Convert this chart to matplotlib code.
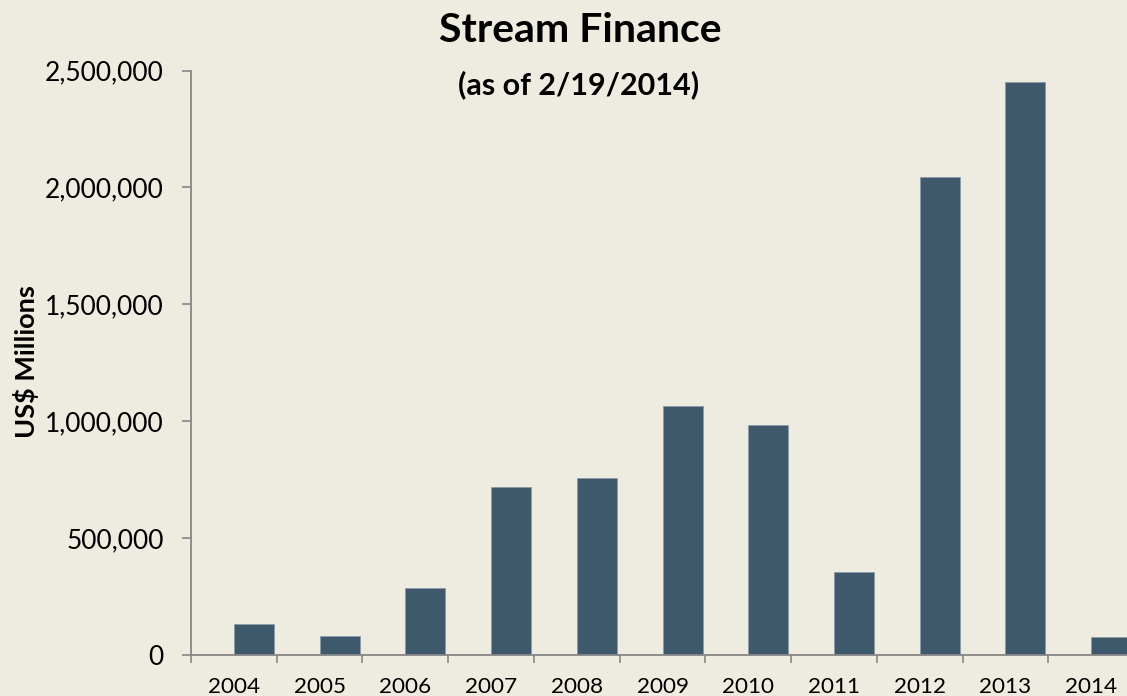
import matplotlib
matplotlib.use("Agg")
import matplotlib.pyplot as plt
from matplotlib.ticker import FuncFormatter, FixedLocator
import numpy as np

years = ["2004", "2005", "2006", "2007", "2008", "2009", "2010", "2011", "2012", "2013", "2014"]
values = [133000, 81000, 285000, 720000, 758000, 1065000, 984000, 354000, 2045000, 2450000, 76000]
yticks = [0, 500000, 1000000, 1500000, 2000000, 2500000]

BG = "#EEECE1"
BAR = "#3D596B"
AX = "#868686"

plt.rcParams["font.family"] = ["Lato", "DejaVu Sans"]

W, H = 1127, 696
fig = plt.figure(figsize=(W / 100, H / 100), dpi=100, facecolor=BG)

left_px, right_px, top_px, bottom_px = 191, 1134, 70.5, 655
ax = fig.add_axes([left_px / W, 1 - bottom_px / H,
                   (right_px - left_px) / W, (bottom_px - top_px) / H])
ax.set_facecolor(BG)

x = np.arange(len(years))
ax.bar(x, values, width=0.467, align="edge", color=BAR,
       edgecolor="#8C9BA5", linewidth=0.7, zorder=2)

ax.set_xlim(-0.5, len(years) - 0.5)
ax.set_ylim(0, 2500000)

for s in ["top", "right"]:
    ax.spines[s].set_visible(False)
for s in ["left", "bottom"]:
    ax.spines[s].set_color(AX)
    ax.spines[s].set_linewidth(1.3)

ax.yaxis.set_major_locator(FixedLocator(yticks))
ax.yaxis.set_major_formatter(FuncFormatter(lambda v, p: f"{int(v):,}"))
ax.tick_params(axis="y", length=6.5, width=1.2, color=AX, pad=13,
               labelsize=19, labelcolor="black")

ax.set_xticks(x)
ax.set_xticklabels(years)
ax.tick_params(axis="x", which="major", length=0, pad=16, labelsize=16.2,
               labelcolor="black")
ax.set_xticks(np.arange(-0.5, len(years) + 0.5, 1.0), minor=True)
ax.tick_params(axis="x", which="minor", length=5.5, width=1.2, color=AX)

fig.text(580 / W, 1 - 30 / H, "Stream Finance", ha="center", va="center",
         fontsize=29.5, fontweight="bold")
fig.text(579 / W, 1 - 85 / H, "(as of 2/19/2014)", ha="center", va="center",
         fontsize=22, fontweight="bold")
fig.text(26 / W, 1 - 362 / H, "US$ Millions", ha="center", va="center",
         rotation=90, fontsize=19.5, fontweight="bold")

fig.savefig("out.png", dpi=100, facecolor=BG)
